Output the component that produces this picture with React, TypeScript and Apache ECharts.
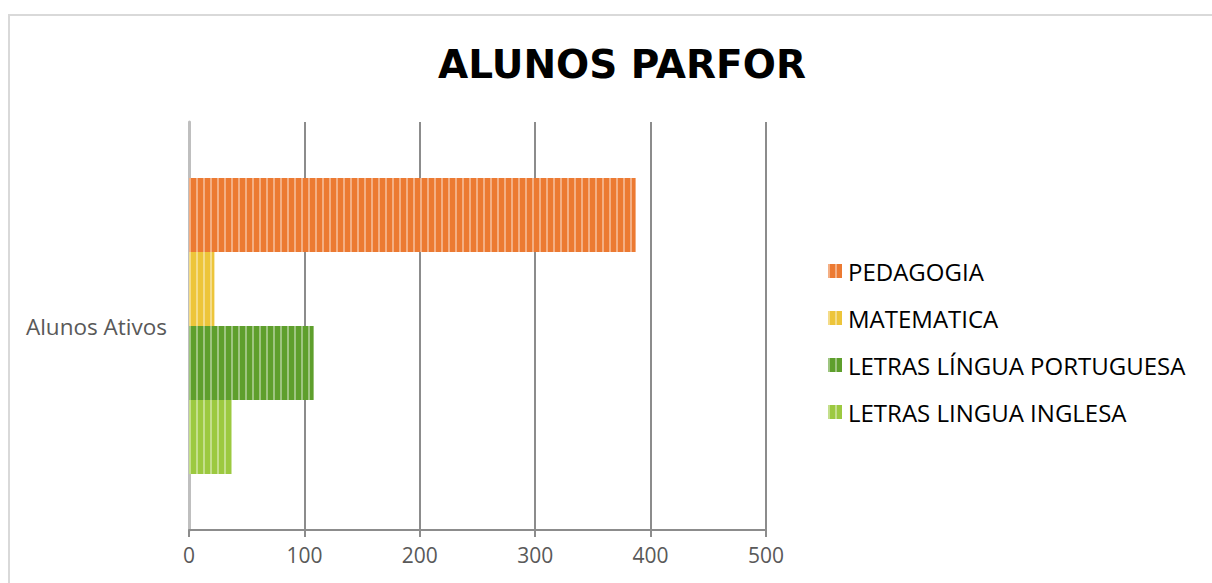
import React, { useEffect, useRef } from "react";
import * as echarts from "echarts";

const categories = ["Alunos Ativos"];
const seriesNames = ["PEDAGOGIA", "MATEMATICA", "LETRAS LÍNGUA PORTUGUESA", "LETRAS LINGUA INGLESA"];
const seriesValues = [387, 22, 108, 37];
const seriesColors = ["#EC7A32", "#EDC53A", "#5E9F2C", "#9CC940"];
const xTicks = [0, 100, 200, 300, 400, 500];

export default function App() {
  const ref = useRef<HTMLDivElement>(null);
  useEffect(() => {
    const chart = echarts.init(ref.current!, null, { renderer: "svg" });
    const decal = {
      symbol: "rect",
      symbolSize: 1,
      dashArrayX: [2, 5],
      dashArrayY: [10, 0],
      color: "rgba(255,255,255,0.4)",
      rotation: 0,
    };
    chart.setOption({
      animation: false,
      backgroundColor: "#ffffff",
      title: {
        text: "ALUNOS PARFOR",
        left: 617,
        textAlign: "center",
        top: 40,
        textStyle: { fontFamily: "DejaVu Sans", fontWeight: "bold", fontSize: 39, color: "#000" },
      },
      graphic: [
        {
          type: "rect",
          shape: { x: 9, y: 15, width: 1220, height: 600 },
          style: { fill: "none", stroke: "#d9d9d9", lineWidth: 2 },
          silent: true,
        },
      ],
      legend: {
        orient: "vertical",
        left: 828,
        top: 259,
        padding: 0,
        itemWidth: 14,
        itemHeight: 14,
        itemGap: 23,
        icon: "rect",
        data: seriesNames,
        textStyle: { fontFamily: "Open Sans", fontSize: 24, color: "#000", padding: [0, 0, 0, 1] },
      },
      grid: { left: 189, right: 446, top: 122, bottom: 53, containLabel: false },
      xAxis: {
        type: "value",
        min: 0,
        max: 500,
        interval: 100,
        axisLine: { show: true, lineStyle: { color: "#8c8c8c", width: 2 } },
        axisTick: { show: true, length: 7, lineStyle: { color: "#8c8c8c", width: 2 } },
        axisLabel: {
          fontFamily: "Open Sans",
          fontSize: 21,
          color: "#595959",
          margin: 14,
          formatter: (v: number) => (xTicks.includes(v) ? String(v) : ""),
        },
        splitLine: { show: true, lineStyle: { color: "#8c8c8c", width: 2 } },
      },
      yAxis: {
        type: "category",
        data: categories,
        inverse: true,
        axisLine: { show: true, lineStyle: { color: "#bfbfbf", width: 3 } },
        axisTick: { show: false },
        axisLabel: { fontFamily: "Open Sans", fontSize: 22.5, color: "#595959", margin: 22 },
      },
      series: seriesNames.map((name, i) => ({
        name,
        type: "bar",
        data: [seriesValues[i]],
        barGap: "0%",
        barCategoryGap: "27.5%",
        itemStyle: { color: seriesColors[i], decal },
      })),
    });
    return () => chart.dispose();
  }, []);
  return (
    <div
      ref={ref}
      style={{ position: "fixed", left: 0, top: 0, width: 1212, height: 583 }}
    />
  );
}
